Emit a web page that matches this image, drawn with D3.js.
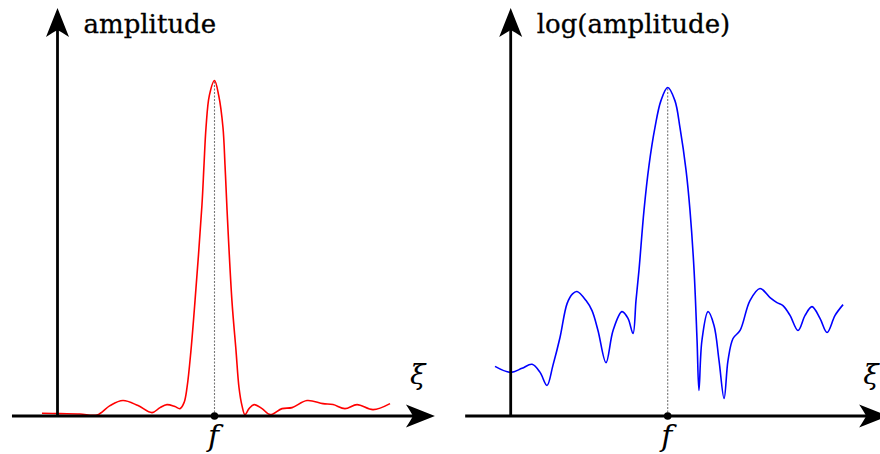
<!DOCTYPE html>
<html><head><meta charset="utf-8">
<script src="https://cdn.jsdelivr.net/npm/d3@7"></script>
<style>body{margin:0;background:#fff}</style>
</head><body><svg id="c" width="880" height="454"></svg>
<script>
// ξ values (f = 1) and amplitudes
const redXi  = [-0.099,0.016,0.143,0.252,0.334,0.417,0.513,0.602,0.653,0.697,0.748,0.780,0.806,0.825,0.850,0.876,0.920,0.933,0.946,0.967,1.0,1.027,1.054,1.067,1.080,1.111,1.137,1.156,1.175,1.194,1.220,1.252,1.303,1.354,1.430,1.494,1.589,1.691,1.755,1.831,1.908,2.010,2.118];
const redAmp = [0.008,0.007,0.006,0.003,0.031,0.046,0.031,0.010,0.025,0.034,0.028,0.022,0.040,0.085,0.195,0.344,0.628,0.747,0.860,0.955,1.0,0.955,0.860,0.747,0.613,0.344,0.195,0.085,0.031,0.004,0.022,0.034,0.022,0.004,0.022,0.025,0.046,0.037,0.034,0.022,0.034,0.019,0.037];
const blueXi = [-0.100,0.0,0.072,0.136,0.187,0.231,0.269,0.314,0.359,0.394,0.422,0.480,0.518,0.556,0.607,0.652,0.709,0.747,0.779,0.798,0.817,0.849,0.881,0.919,0.957,1.0,1.046,1.078,1.117,1.142,1.168,1.187,1.199,1.218,1.257,1.295,1.327,1.359,1.384,1.416,1.461,1.524,1.588,1.652,1.696,1.734,1.779,1.830,1.875,1.919,1.970,2.015,2.066,2.117];
const blueLogAmp = [0.148,0.130,0.142,0.154,0.130,0.091,0.151,0.234,0.335,0.364,0.371,0.344,0.314,0.255,0.159,0.255,0.311,0.291,0.246,0.344,0.434,0.613,0.747,0.860,0.940,0.979,0.940,0.860,0.732,0.613,0.434,0.225,0.076,0.225,0.311,0.270,0.165,0.052,0.165,0.231,0.255,0.344,0.380,0.353,0.338,0.329,0.300,0.255,0.300,0.326,0.291,0.249,0.300,0.332];
const axisXDomain = [-0.29, 2.404];
const axisYTop = 1.216;
const fValue = 1;
const yLabels = ["amplitude", "log(amplitude)"];
const xLabel = "ξ";
const tickLabel = "f";

const svg = d3.select("#c");
const y = d3.scaleLinear().domain([0, 1]).range([416, 80.5]);
const panels = [
  {x0: 57.5, xi: redXi, val: redAmp, color: "#ff0000", label: yLabels[0]},
  {x0: 510.7, xi: blueXi, val: blueLogAmp, color: "#0000ff", label: yLabels[1]}
];
function arrowPath(tx, ty, angle) {
  const pts = "M0,0 L-29,-11.5 Q-24,-4 -22,0 Q-24,4 -29,11.5 Z";
  return {d: pts, transform: `translate(${tx},${ty}) rotate(${angle})`};
}
panels.forEach(p => {
  const x = d3.scaleLinear().domain([0, 1]).range([p.x0, p.x0 + 157]);
  const g = svg.append("g");
  const pts = p.xi.map((d, i) => [d, p.val[i]]);
  const peak = d3.max(p.val);
  g.append("line")
    .attr("x1", x(fValue)).attr("x2", x(fValue))
    .attr("y1", y(0)).attr("y2", y(peak))
    .attr("stroke", "#777").attr("stroke-width", 1.1).attr("stroke-dasharray", "2,1.5");
  g.append("path").datum(pts)
    .attr("d", d3.line().x(d => x(d[0])).y(d => y(d[1])).curve(d3.curveCatmullRom.alpha(0.5)))
    .attr("fill", "none").attr("stroke", p.color).attr("stroke-width", 1.6);
  g.append("line")
    .attr("x1", x(axisXDomain[0])).attr("x2", x(axisXDomain[1]) - 20)
    .attr("y1", y(0)).attr("y2", y(0))
    .attr("stroke", "#000").attr("stroke-width", 2.8);
  let a = arrowPath(x(axisXDomain[1]), y(0), 0);
  g.append("path").attr("d", a.d).attr("transform", a.transform).attr("fill", "#000");
  g.append("line")
    .attr("x1", x(0)).attr("x2", x(0))
    .attr("y1", y(0)).attr("y2", y(axisYTop) + 20)
    .attr("stroke", "#000").attr("stroke-width", 2.8);
  a = arrowPath(x(0), y(axisYTop), -90);
  g.append("path").attr("d", a.d).attr("transform", a.transform).attr("fill", "#000");
  g.append("circle").attr("cx", x(fValue)).attr("cy", y(0)).attr("r", 3.8).attr("fill", "#000");
  g.append("text").attr("x", x(fValue) - 1).attr("y", 446)
    .attr("text-anchor", "middle").attr("font-family", "DejaVu Serif").attr("font-style", "italic")
    .attr("font-size", 30).attr("fill", "#000").text(tickLabel);
  g.append("text").attr("x", x(axisXDomain[1]) - 25).attr("y", 384)
    .attr("font-family", "DejaVu Serif").attr("font-style", "italic")
    .attr("font-size", 28).attr("fill", "#000").text(xLabel);
  g.append("text").attr("x", x(0) + 26).attr("y", 33)
    .attr("font-family", "DejaVu Serif").attr("font-size", 26).attr("fill", "#000")
    .attr("stroke", "#000").attr("stroke-width", 0.3).text(p.label);
});
</script>
</body></html>
